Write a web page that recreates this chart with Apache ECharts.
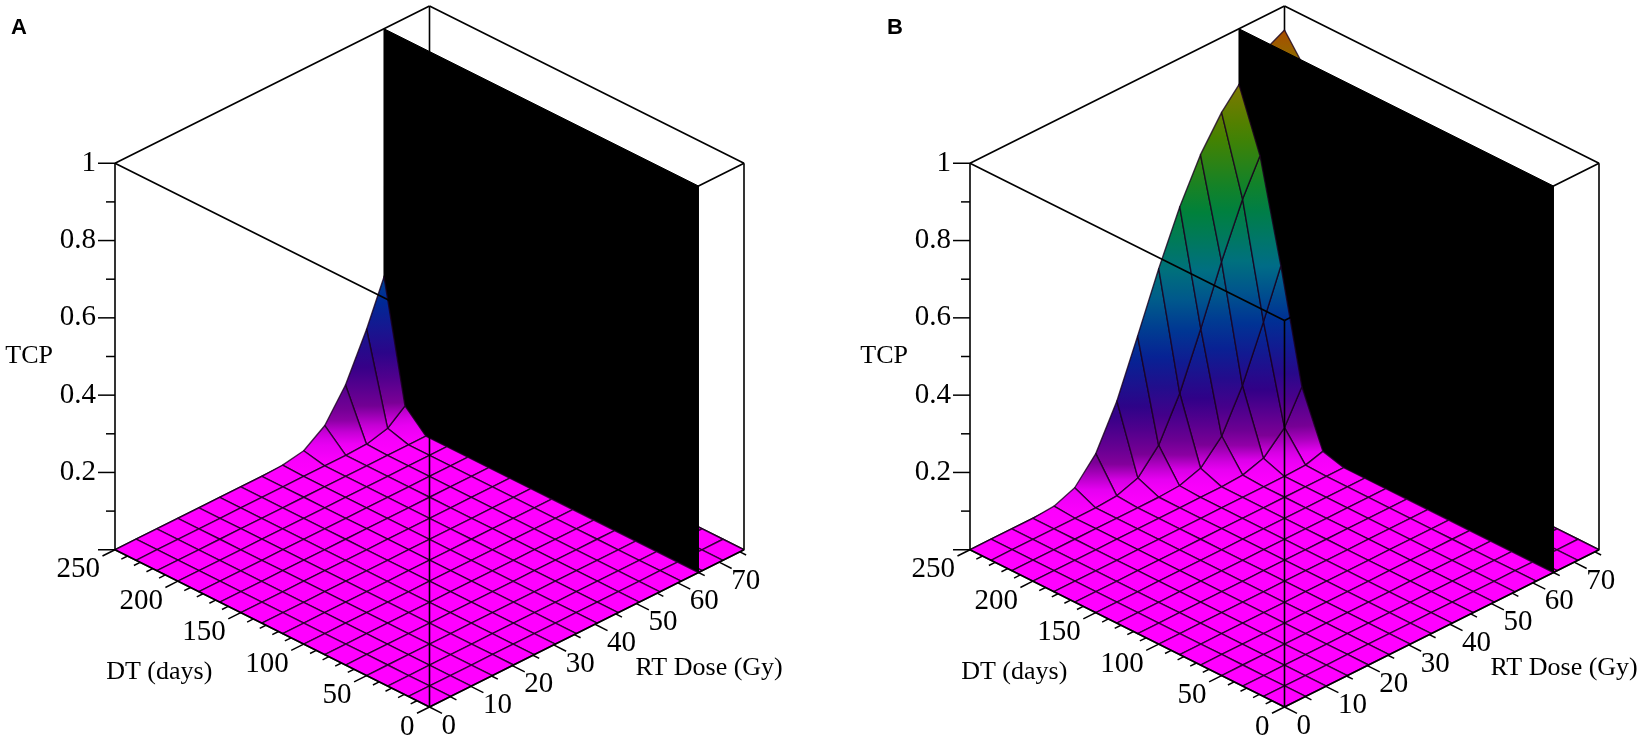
<!DOCTYPE html>
<html>
<head>
<meta charset="utf-8">
<title>TCP vs DT and RT dose</title>
<script src="https://cdn.jsdelivr.net/npm/echarts@6/dist/echarts.min.js"></script>
<style>
html, body { margin: 0; padding: 0; background: #fff; }
#chart { width: 1644px; height: 741px; }
</style>
</head>
<body>
<div id="chart"></div>
<script>
// grid of the surface (doubling time rows x dose columns)
var dtDays = [0, 16.7, 33.3, 50, 66.7, 83.3, 100, 116.7, 133.3, 150, 166.7, 183.3, 200, 216.7, 233.3, 250];
var doseGy = [0, 5.1, 10.1, 15.2, 20.3, 25.3, 30.4, 35.5, 40.5, 45.6, 50.7, 55.7, 60.8, 65.9, 70.9, 76];

// axis ranges and ticks
var dtMax = 250, doseMax = 76, wallDose = 65;
var tcpMajor = [0, 0.2, 0.4, 0.6, 0.8, 1];
var tcpMinor = [0.1, 0.3, 0.5, 0.7, 0.9];
var dtMajor = [0, 50, 100, 150, 200, 250];
var dtMinor = [10, 20, 30, 40, 60, 70, 80, 90, 110, 120, 130, 140, 160, 170, 180, 190, 210, 220, 230, 240];
var doseMajor = [0, 10, 20, 30, 40, 50, 60, 70];
var doseMinor = [5, 15, 25, 35, 45, 55, 65, 75];

// panel A: TCP, one row per DT value
var tcpA = [
  [0,0,0,0,0,0,0,0,0,0,0,0,0,0,0,0],
  [0,0,0,0,0,0,0,0,0,0,0,0,0,0,0,0],
  [0,0,0,0,0,0,0,0,0,0,0,0,0,0,0,0],
  [0,0,0,0,0,0,0,0,0,0,0,0,0,0,0,0],
  [0,0,0,0,0,0,0,0,0,0,0,0,0,0,0,0],
  [0,0,0,0,0,0,0,0,0,0,0,0,0,0,0,0],
  [0,0,0,0,0,0,0,0,0,0,0,0,0,0,0,0],
  [0,0,0,0,0,0,0,0,0,0,0,0,0,0,0,0],
  [0,0,0,0,0,0,0,0,0,0,0,0,0,0,0,0],
  [0,0,0,0,0,0,0,0,0,0,0,0,0,0,0,0],
  [0,0,0,0,0,0,0,0,0,0,0,0,0,0,0,0],
  [0,0,0,0,0,0,0,0,0,0,0,0,0,0,0,0],
  [0,0,0,0,0,0,0,0,0,0,0,0,0,0,0,0],
  [0,0,0,0,0,0,0,0,0,0,0,0,0,0,0.003,0.020],
  [0,0,0,0,0,0,0,0,0,0,0,0.002,0.016,0.059,0.144,0.265],
  [0,0,0,0,0,0,0,0,0.002,0.012,0.050,0.128,0.245,0.382,0.518,0.638]
];

// panel B
var tcpB = [
  [0,0,0,0,0,0,0,0,0,0,0,0,0,0,0,0],
  [0,0,0,0,0,0,0,0,0,0,0,0,0,0,0,0],
  [0,0,0,0,0,0,0,0,0,0,0,0,0,0,0,0],
  [0,0,0,0,0,0,0,0,0,0,0,0,0,0,0,0],
  [0,0,0,0,0,0,0,0,0,0,0,0,0,0,0,0],
  [0,0,0,0,0,0,0,0,0,0,0,0,0,0,0,0],
  [0,0,0,0,0,0,0,0,0,0,0,0,0,0,0,0],
  [0,0,0,0,0,0,0,0,0,0,0,0,0,0,0,0],
  [0,0,0,0,0,0,0,0,0,0,0,0,0,0,0,0],
  [0,0,0,0,0,0,0,0,0,0,0,0,0,0,0,0],
  [0,0,0,0,0,0,0,0,0,0,0,0,0,0,0.002,0.016],
  [0,0,0,0,0,0,0,0,0,0,0,0,0.002,0.018,0.068,0.167],
  [0,0,0,0,0,0,0,0,0,0,0.003,0.020,0.072,0.173,0.311,0.459],
  [0,0,0,0,0,0,0,0,0.003,0.021,0.077,0.181,0.319,0.467,0.602,0.713],
  [0,0,0,0,0,0,0.004,0.023,0.081,0.188,0.328,0.475,0.609,0.718,0.802,0.863],
  [0,0,0,0,0.004,0.025,0.086,0.195,0.336,0.483,0.616,0.724,0.806,0.866,0.909,0.938]
];

var Z_SCALE = 1.229;      // height of TCP=1 relative to the floor diagonal
var SERIF = '"Liberation Serif", "Times New Roman", serif';
var GRID_LINE = 'rgba(25,0,30,0.8)';

// maple-like z-hue shading
var hueStops = [
  [0, [255, 0, 255]], [0.03, [228, 0, 240]], [0.07, [125, 0, 150]], [0.17, [50, 0, 135]],
  [0.30, [0, 40, 150]], [0.45, [0, 110, 135]], [0.60, [0, 130, 55]], [0.75, [70, 130, 0]],
  [0.86, [130, 120, 0]], [0.94, [170, 75, 0]], [1, [190, 50, 0]]
];
function zhue(w) {
  w = Math.max(0, Math.min(1, w));
  for (var i = 1; i < hueStops.length; i++) {
    if (w <= hueStops[i][0]) {
      var a = hueStops[i - 1], b = hueStops[i];
      var t = (w - a[0]) / (b[0] - a[0]);
      var c = [0, 1, 2].map(function (k) { return Math.round(a[1][k] + t * (b[1][k] - a[1][k])); });
      return 'rgb(' + c.join(',') + ')';
    }
  }
  return 'rgb(190,50,0)';
}

function depth(p) {
  return p[0] / dtMax + p[1] / doseMax - 0.827 * p[2];
}

// cut the surface into cells behind and in front of the wall
function splitCells(rows) {
  var back = [], front = [];
  for (var k = 0; k < dtDays.length - 1; k++) {
    for (var i = 0; i < doseGy.length - 1; i++) {
      var t0 = dtDays[k], t1 = dtDays[k + 1], d0 = doseGy[i], d1 = doseGy[i + 1];
      var a0 = rows[k][i], a1 = rows[k][i + 1], b0 = rows[k + 1][i], b1 = rows[k + 1][i + 1];
      if (d1 <= wallDose) {
        front.push([[t0, d0, a0], [t0, d1, a1], [t1, d1, b1], [t1, d0, b0]]);
      } else if (d0 >= wallDose) {
        back.push([[t0, d0, a0], [t0, d1, a1], [t1, d1, b1], [t1, d0, b0]]);
      } else {
        var f = (wallDose - d0) / (d1 - d0);
        var aw = a0 + f * (a1 - a0), bw = b0 + f * (b1 - b0);
        front.push([[t0, d0, a0], [t0, wallDose, aw], [t1, wallDose, bw], [t1, d0, b0]]);
        back.push([[t0, wallDose, aw], [t0, d1, a1], [t1, d1, b1], [t1, wallDose, bw]]);
      }
    }
  }
  var byDepth = function (c1, c2) {
    var s1 = 0, s2 = 0;
    for (var j = 0; j < 4; j++) { s1 += depth(c1[j]); s2 += depth(c2[j]); }
    return s2 - s1;
  };
  back.sort(byDepth);
  front.sort(byDepth);
  return { back: back, front: front };
}

function makeRender(rows) {
  var cells = splitCells(rows);
  return function (params, api) {
    var kids = [];
    var P = function (dt, dose, tcp) {
      var u = dt / dtMax, v = dose / doseMax;
      return api.coord([v - u, 0.5 * (u + v) + Z_SCALE * tcp]);
    };
    var edge = function (a, b) {
      var p = P(a[0], a[1], a[2]), q = P(b[0], b[1], b[2]);
      kids.push({ type: 'line', shape: { x1: p[0], y1: p[1], x2: q[0], y2: q[1] },
        style: { stroke: '#000', lineWidth: 1.6 } });
    };
    var tick = function (p, dx, dy, len) {
      kids.push({ type: 'line', shape: { x1: p[0], y1: p[1], x2: p[0] + dx * len, y2: p[1] + dy * len },
        style: { stroke: '#000', lineWidth: 1.5 } });
    };
    var label = function (x, y, str, size, align) {
      kids.push({ type: 'text', x: x, y: y,
        style: { text: str, fontFamily: SERIF, fontSize: size, fill: '#000', align: align, verticalAlign: 'middle' } });
    };
    var cell = function (c) {
      var pts = c.map(function (q) { return P(q[0], q[1], q[2]); });
      var lo = 0, hi = 0;
      for (var j = 1; j < 4; j++) {
        if (c[j][2] < c[lo][2]) lo = j;
        if (c[j][2] > c[hi][2]) hi = j;
      }
      var wlo = c[lo][2], whi = c[hi][2], fill;
      if (whi - wlo < 0.004) {
        fill = zhue((wlo + whi) / 2);
      } else {
        var stops = [];
        for (var s = 0; s <= 6; s++) stops.push({ offset: s / 6, color: zhue(wlo + (whi - wlo) * s / 6) });
        fill = new echarts.graphic.LinearGradient(pts[lo][0], pts[lo][1], pts[hi][0], pts[hi][1], stops, true);
      }
      kids.push({ type: 'polygon', shape: { points: pts },
        style: { fill: fill, stroke: GRID_LINE, lineWidth: 1.4, lineJoin: 'round' } });
    };

    // hidden box edges
    edge([dtMax, 0, 0], [dtMax, doseMax, 0]);
    edge([dtMax, doseMax, 0], [0, doseMax, 0]);
    edge([dtMax, doseMax, 0], [dtMax, doseMax, 1]);
    edge([dtMax, 0, 1], [dtMax, doseMax, 1]);
    edge([dtMax, doseMax, 1], [0, doseMax, 1]);

    cells.back.forEach(cell);
    var wall = [P(0, wallDose, 0), P(dtMax, wallDose, 0), P(dtMax, wallDose, 1), P(0, wallDose, 1)];
    kids.push({ type: 'polygon', shape: { points: wall }, style: { fill: '#000', stroke: '#000', lineWidth: 1 } });
    cells.front.forEach(cell);

    // front box edges
    edge([dtMax, 0, 0], [dtMax, 0, 1]);
    edge([0, doseMax, 0], [0, doseMax, 1]);
    edge([0, 0, 0], [0, 0, 1]);
    edge([dtMax, 0, 1], [0, 0, 1]);
    edge([0, 0, 1], [0, doseMax, 1]);
    edge([0, 0, 0], [dtMax, 0, 0]);
    edge([0, 0, 0], [0, doseMax, 0]);

    // TCP axis
    tcpMajor.forEach(function (z) {
      var p = P(dtMax, 0, z);
      tick(p, -1, 0, 17);
      if (z > 0) label(p[0] - 19, p[1], String(z), 29, 'right');
    });
    tcpMinor.forEach(function (z) { tick(P(dtMax, 0, z), -1, 0, 9); });
    var mid = P(dtMax, 0, 0.5);
    label(mid[0] - 62, mid[1], 'TCP', 26, 'right');

    // DT axis
    dtMajor.forEach(function (d) {
      var p = P(d, 0, 0);
      tick(p, -0.894, 0.448, 14);
      label(p[0] - 15, p[1] + 20, String(d), 29, 'right');
    });
    dtMinor.forEach(function (d) { tick(P(d, 0, 0), -0.894, 0.448, 7); });
    var dtT = P(125, 0, 0);
    label(dtT[0] - 113, dtT[1] + 44, 'DT (days)', 26, 'center');

    // dose axis
    doseMajor.forEach(function (d) {
      var p = P(0, d, 0);
      tick(p, 0.893, 0.451, 14);
      label(p[0] + 12, p[1] + 19, String(d), 29, 'left');
    });
    doseMinor.forEach(function (d) { tick(P(0, d, 0), 0.893, 0.451, 7); });
    var doseT = P(0, 70, 0);
    label(doseT[0] - 10, doseT[1] + 106, 'RT Dose (Gy)', 26, 'center');

    return { type: 'group', children: kids };
  };
}

var chart = echarts.init(document.getElementById('chart'));
var option = {
  animation: false,
  grid: [
    { left: 115, top: 6, width: 629, height: 701 },
    { left: 970, top: 6, width: 629, height: 701 }
  ],
  xAxis: [
    { gridIndex: 0, type: 'value', min: -1, max: 1, show: false },
    { gridIndex: 1, type: 'value', min: -1, max: 1, show: false }
  ],
  yAxis: [
    { gridIndex: 0, type: 'value', min: 0, max: 2.229, show: false },
    { gridIndex: 1, type: 'value', min: 0, max: 2.229, show: false }
  ],
  graphic: [
    { type: 'text', left: 11, top: 17, style: { text: 'A', fontFamily: '"Liberation Sans", Arial, sans-serif', fontWeight: 'bold', fontSize: 22, fill: '#000' } },
    { type: 'text', left: 887, top: 17, style: { text: 'B', fontFamily: '"Liberation Sans", Arial, sans-serif', fontWeight: 'bold', fontSize: 22, fill: '#000' } }
  ],
  series: [
    { type: 'custom', xAxisIndex: 0, yAxisIndex: 0, clip: false, silent: true, data: [[0, 0]], renderItem: makeRender(tcpA) },
    { type: 'custom', xAxisIndex: 1, yAxisIndex: 1, clip: false, silent: true, data: [[0, 0]], renderItem: makeRender(tcpB) }
  ]
};
chart.setOption(option);
window.addEventListener('resize', function () {
  chart.resize();
});
</script>
</body>
</html>
